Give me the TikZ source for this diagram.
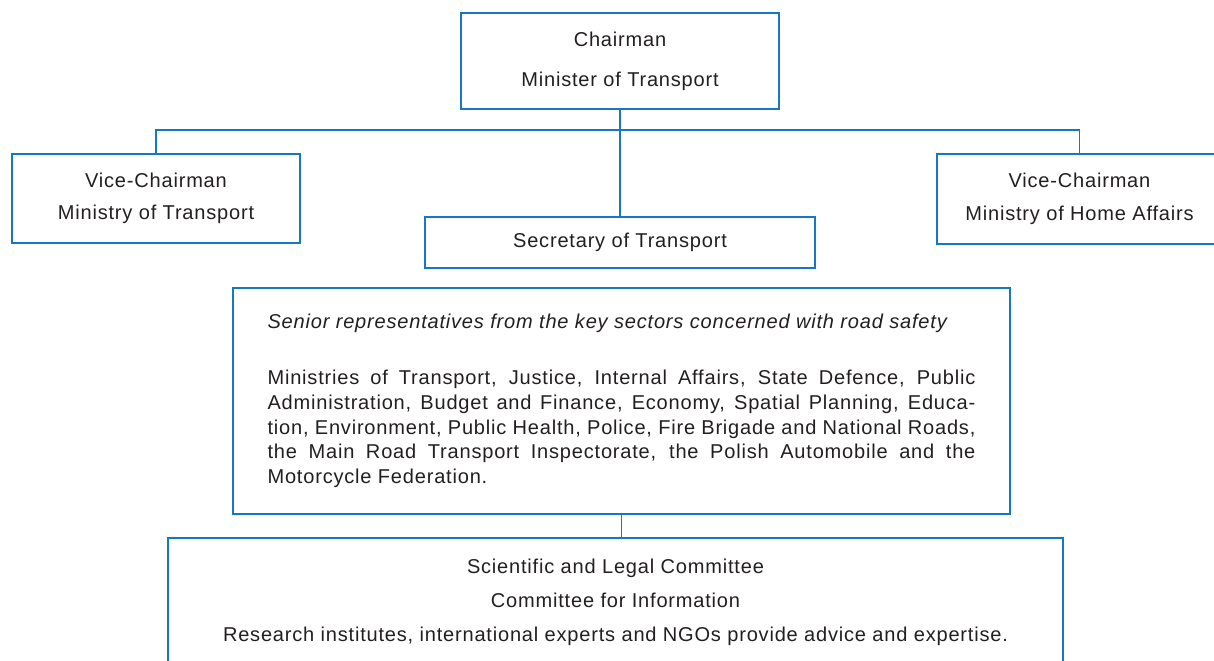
\documentclass[tikz,border=0pt]{standalone}
\usepackage{fontspec}
\setmainfont{Liberation Sans}[LetterSpace=4]
\usetikzlibrary{positioning, calc}
\definecolor{orgblue}{RGB}{22,120,195}
\definecolor{orgtext}{RGB}{35,31,32}
\newcommand{\fullline}[1]{\makebox[14.16cm][s]{#1}}

\begin{document}
\begin{tikzpicture}[
    x=0.02cm, y=-0.02cm,
    box/.style={draw=orgblue, line width=1.1pt, fill=white, align=center,
                text=orgtext, font=\fontsize{11.4}{13.5}\selectfont, inner sep=0pt},
    link/.style={draw=orgblue, line width=1.1pt},
    lbl/.style={text=orgtext, font=\fontsize{11.4}{13.5}\selectfont, align=center}
  ]
    \useasboundingbox (0,0) rectangle (1214,660);

    % Boxes
    \node[box, minimum width=6.36cm, minimum height=1.92cm] (chair) at (620,61)
      {Chairman\\[9.2pt]Minister of Transport};
    \node[box, minimum width=5.76cm, minimum height=1.78cm] (vcl) at (156,198.5)
      {Vice-Chairman\\[4.6pt]Ministry of Transport};
    \node[box, minimum width=5.7cm, minimum height=1.8cm] (vcr) at (1079.5,199)
      {Vice-Chairman\\[5pt]Ministry of Home Affairs};
    \node[box, minimum width=7.8cm, minimum height=1.02cm] (sec) at (620,242.5)
      {Secretary of Transport};
    \node[box, align=left, minimum width=15.54cm, minimum height=4.52cm,
          font=\fontsize{11.4}{14.2}\selectfont] (senior) at (621.5,401)
      {\textit{Senior representatives from the key sectors concerned with road safety}\\[17.5pt]
       \fullline{Ministries of Transport, Justice, Internal Affairs, State Defence, Public}\\
       \fullline{Administration, Budget and Finance, Economy, Spatial Planning, Educa-}\\
       \fullline{tion, Environment, Public Health, Police, Fire Brigade and National Roads,}\\
       \fullline{the Main Road Transport Inspectorate, the Polish Automobile and the}\\
       Motorcycle Federation.};
    \node[box, minimum width=17.9cm, minimum height=3.24cm] (cmte) at (615.5,619) {};
    \node[lbl] (cmtetext) at (615.5,602)
      {Scientific and Legal Committee\\[5.8pt]Committee for Information\\[5.8pt]
       Research institutes, international experts and NGOs provide advice and expertise.};

    % Connectors
    \coordinate (bus) at (620,130);
    \draw[link] (chair.south) -- (sec.north);
    \draw[link] (vcl.north) |- (bus) -| (vcr.north);
    \draw[link] (senior.south) -- (senior.south |- cmte.north);

  \end{tikzpicture}
\end{document}
